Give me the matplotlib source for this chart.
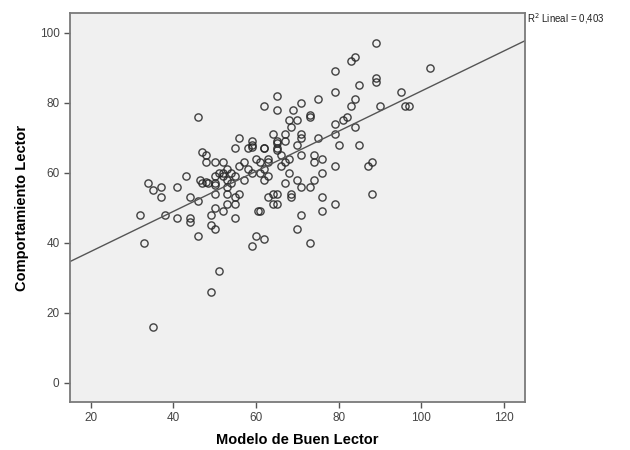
import numpy as np
import matplotlib
matplotlib.use('Agg')
import matplotlib.pyplot as plt

# Modelo de Buen Lector (x) vs Comportamiento Lector (y)
modelo = [89, 102, 83, 84, 79, 89, 89, 79, 85, 95, 96, 97, 90, 84, 83,
          65, 65, 75, 69, 71, 62, 68, 70, 73, 73, 68.5, 79, 81, 82, 84,
          64, 67, 71, 71, 75, 79, 65, 65, 62, 70, 80, 85, 71, 74, 76, 74, 67, 79, 87, 88,
          68, 76, 67, 74, 73, 64, 65, 68.5, 68.5, 76, 88,
          63, 64, 65, 79, 61, 71, 76, 70, 73, 62, 60, 59, 60.5,
          46, 56, 59, 55, 58, 59, 47, 48, 48, 50, 52, 43, 34, 37, 41, 35, 37, 44, 46,
          47, 48.5, 50, 50, 53, 55, 56, 50, 49, 52, 55, 53, 55, 32, 38, 41, 44, 44, 49, 50,
          46, 33, 51, 49, 35,
          46.5, 48, 50, 52, 53, 54, 50, 53, 59, 61, 60, 63, 66, 68, 59, 62, 65, 65, 67,
          55, 57, 58, 62, 63, 51, 52, 53, 54, 56, 57, 61, 62, 63, 66, 70, 71]
comportamiento = [97, 90, 92, 93, 89, 87, 86, 83, 85, 83, 79, 79, 79, 81, 79,
                  82, 78, 81, 78, 80, 79, 75, 75, 76, 76.5, 73, 74, 75, 76, 73,
                  71, 71, 71, 70, 70, 71, 69, 67, 67, 68, 68, 68, 65, 65, 64, 63, 63, 62, 62, 63,
                  60, 60, 57, 58, 56, 54, 54, 54, 53, 53, 54,
                  53, 51, 51, 51, 49, 48, 49, 44, 40, 41, 42, 39, 49,
                  76, 70, 69, 67, 67, 67.5, 66, 65, 63, 63, 63, 59, 57, 56, 56, 55, 53, 53, 52,
                  57, 57, 57, 54, 54, 53, 54, 50, 48, 49, 47, 51, 51, 48, 48, 47, 47, 46, 45, 44,
                  42, 40, 32, 26, 16,
                  58, 57.5, 59, 60, 61, 60, 56.5, 56, 60, 63, 64, 64, 65, 64, 68, 67, 68.5, 66.5, 69,
                  59, 58, 61, 58, 59, 60, 59, 58, 57, 62, 63, 60, 61, 63, 62, 58, 56]

# linear fit as shown on the chart
intercepto = 26.0
pendiente = 0.574
r2_texto = 'R$^2$ Lineal = 0,403'

xticks = [20, 40, 60, 80, 100, 120]
yticks = [0, 20, 40, 60, 80, 100]

plt.rcParams['font.family'] = ['Liberation Sans', 'DejaVu Sans']

fig = plt.figure(figsize=(6.3, 4.5), dpi=100, facecolor='w')
ax = fig.add_axes([0.111, 0.107, 0.722, 0.864])
ax.set_facecolor('#f0f0f0')

xlim = (15, 125)
ax.plot(modelo, comportamiento, 'o', markersize=5.2, markerfacecolor='none',
        markeredgecolor='#222222', markeredgewidth=1.0, alpha=0.85)

xs = np.array(xlim)
ax.plot(xs, intercepto + pendiente * xs, color='#555555', lw=1.0)

ax.set_xlim(*xlim)
ax.set_ylim(-5.5, 105.7)
ax.set_xticks(xticks)
ax.set_yticks(yticks)

for s in ax.spines.values():
    s.set_color('#7a7a7a')
    s.set_linewidth(1.3)
ax.tick_params(direction='out', length=4, width=1, color='#555555',
               labelsize=8.5, labelcolor='#444444')

ax.set_xlabel('Modelo de Buen Lector', fontsize=10.5, fontweight='bold', labelpad=6)
ax.set_ylabel('Comportamiento Lector', fontsize=10.5, fontweight='bold', labelpad=8)

ax.text(1.005, 0.985, r2_texto, transform=ax.transAxes, fontsize=7,
        ha='left', va='center', color='#222222')

plt.savefig('out.png', dpi=100)
